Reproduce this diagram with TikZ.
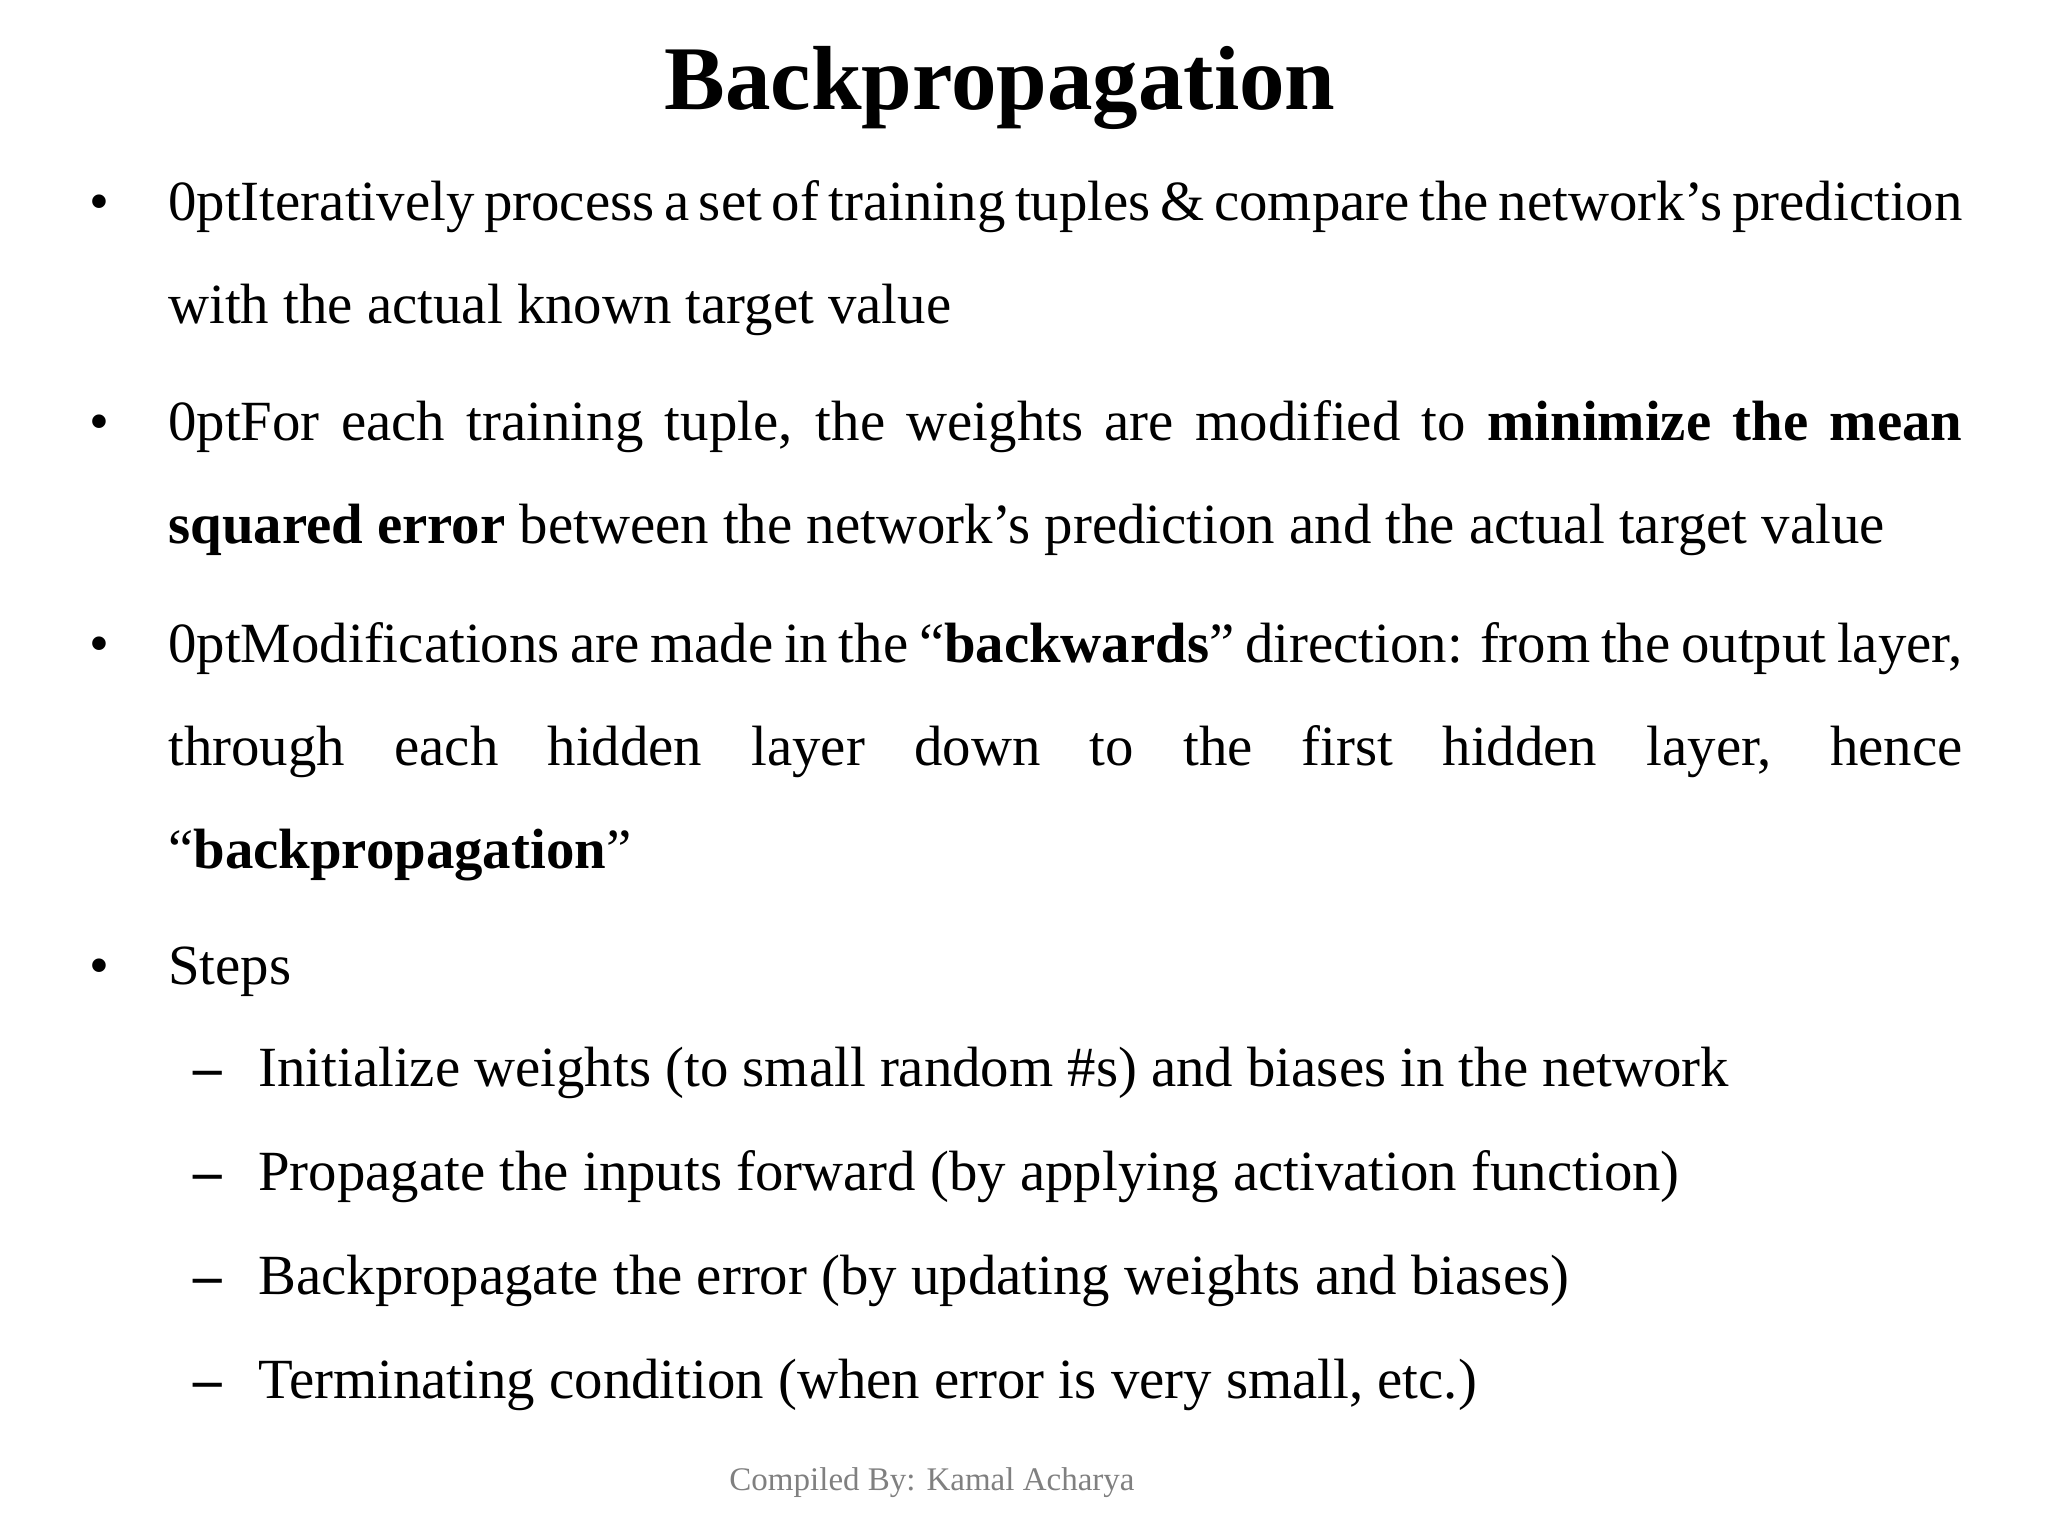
\documentclass[tikz,border=0pt]{standalone}
\usepackage{fontspec}
\setmainfont{Liberation Serif}
\newcommand{\apos}{\char"0027\relax}
\begin{document}
\begin{tikzpicture}[x=1pt,y=1pt,
  para/.style={anchor=base west,inner sep=0pt,text width=897pt,align=justify,font=\fontsize{28.4}{51.5}\selectfont\hyphenpenalty=10000\relax},
  line/.style={anchor=base west,inner sep=0pt,font=\fontsize{28.4}{34}\selectfont},
  bul/.style={anchor=base,inner sep=0pt,font=\fontsize{28.4}{34}\selectfont}]
\useasboundingbox (0,0) rectangle (1024,-768);
\node[anchor=base,inner sep=0pt,font=\fontsize{45.5}{52}\selectfont\bfseries] (title) at (500,-55) {Backpropagation};
\node[bul] (b1) at (49.5,-110) {•};
\node[para] (p1) at (84,-110) {Iteratively process a set of training tuples \& compare the network\apos s prediction\linebreak with the actual known target value};
\node[bul] (b2) at (49.5,-220) {•};
\node[para] (p2) at (84,-220) {For each training tuple, the weights are modified to \textbf{minimize the mean}\linebreak \textbf{squared error} between the network\apos s prediction and the actual target value};
\node[bul] (b3) at (49.5,-331) {•};
\node[para] (p3) at (84,-331) {Modifications are made in the “\textbf{backwards}” direction: from the output layer,\linebreak through each hidden layer down to the first hidden layer, hence\linebreak “\textbf{backpropagation}”};
\node[bul] (b4) at (49.5,-492) {•};
\node[line] (p4) at (84,-492) {Steps};
\foreach \y/\t [count=\i] in {543/{Initialize weights (to small random \#s) and biases in the network},595/{Propagate the inputs forward (by applying activation function)},647/{Backpropagate the error (by updating weights and biases)},699/{Terminating condition (when error is very small, etc.)}}{
  \node[bul] (d\i) at (104,-\y) {\textbf{–}};
  \node[line] (s\i) at (129,-\y) {\t};
}
\node[anchor=base,inner sep=0pt,font=\fontsize{16.5}{20}\selectfont,text=gray] (foot) at (466,-745) {Compiled By: Kamal Acharya};
\end{tikzpicture}
\end{document}
